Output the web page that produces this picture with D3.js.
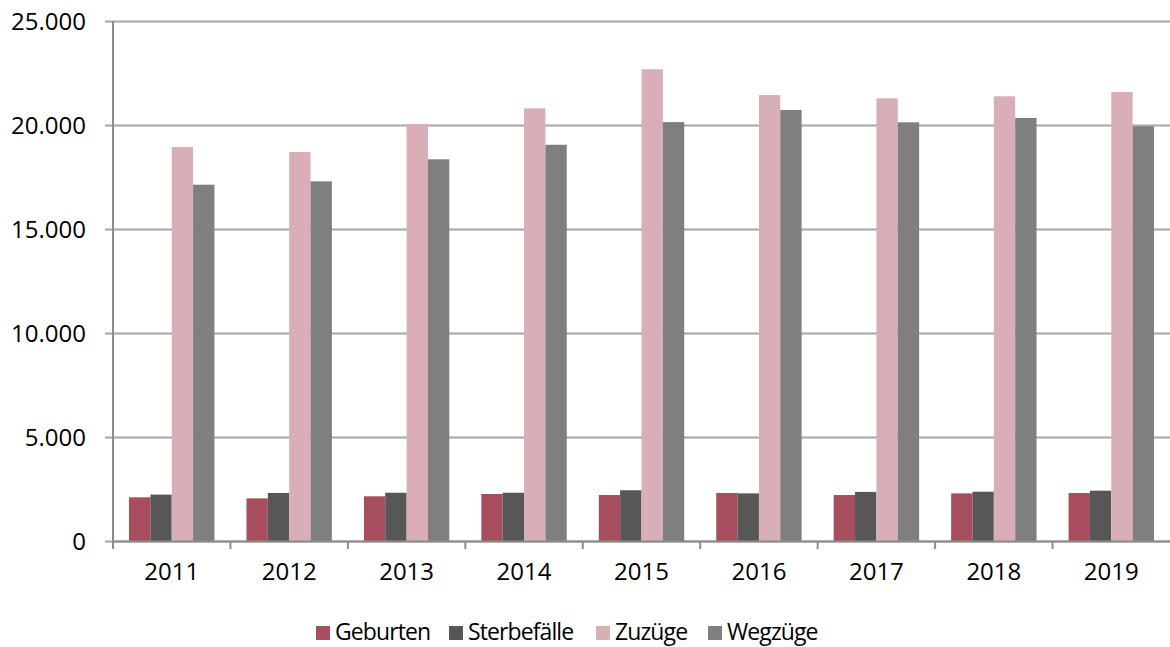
<html>
  <head>
    <script src="https://d3js.org/d3.v7.min.js"></script>
    <style>
      body { margin: 0; background: #fff; }
      text { font-family: "Open Sans", "Noto Sans", sans-serif; fill: #000; }
    </style>
  </head>

  <body>
    <script type="text/javascript">
      var years = ["2011","2012","2013","2014","2015","2016","2017","2018","2019"];
      var series = ["Geburten","Sterbefälle","Zuzüge","Wegzüge"];
      var colors = ["#a64e5e","#575757","#d9afb7","#7f7f7f"];
      var geburten = [2100,2050,2150,2260,2210,2310,2210,2290,2310];
      var sterbefaelle = [2230,2310,2320,2320,2440,2290,2360,2370,2420];
      var zuzuege = [18940,18700,20050,20800,22680,21440,21280,21380,21590];
      var wegzuege = [17130,17290,18350,19050,20140,20720,20130,20340,19940];
      var yTicks = [0,5000,10000,15000,20000,25000];

      var values = [geburten, sterbefaelle, zuzuege, wegzuege];
      var w = 1170, h = 647;
      var plotLeft = 113, plotRight = 1170, plotTop = 21, plotBottom = 541;

      var x = d3.scaleBand().domain(years).range([plotLeft,plotRight]).paddingInner(0).paddingOuter(0);
      var x1 = d3.scaleBand().domain(series).range([0,x.bandwidth()]).paddingInner(0).paddingOuter(0.75);
      var y = d3.scaleLinear().domain([0,25000]).range([plotBottom,plotTop]);
      var fmt = d3.formatLocale({decimal:",", thousands:".", grouping:[3], currency:["","€"]}).format(",.0f");

      var svg = d3.select("body").append("svg")
        .attr("width",w)
        .attr("height",h);

//gridlines + y axis
      var yAxis = d3.axisLeft(y).tickValues(yTicks).tickFormat(fmt)
        .tickSize(-(plotRight-plotLeft)).tickPadding(19);
      var gy = svg.append("g")
        .attr("transform","translate(" + plotLeft + ",0)")
        .call(yAxis);
      gy.select(".domain").remove();
      gy.selectAll(".tick line")
        .attr("x1",-8)
        .attr("stroke","#a6a6a6")
        .attr("stroke-width",2);
      gy.selectAll(".tick text")
        .attr("x",-27)
        .style("font-size","24px")
        .attr("dy","0.36em");

//bars
      var groups = svg.append("g").selectAll("g").data(years).enter().append("g")
        .attr("transform", d => "translate(" + x(d) + ",0)");

      groups.selectAll("rect")
        .data((d,i) => series.map((s,j) => ({s:s, v:values[j][i], c:colors[j]})))
        .enter().append("rect")
          .attr("x", d => x1(d.s))
          .attr("y", d => y(d.v))
          .attr("width", x1.bandwidth())
          .attr("height", d => y(0) - y(d.v))
          .attr("fill", d => d.c);

//y axis line
      svg.append("line")
        .attr("x1",plotLeft).attr("x2",plotLeft)
        .attr("y1",plotTop).attr("y2",plotBottom)
        .attr("stroke","#8c8c8c")
        .attr("stroke-width",2);

//x axis
      var xAxis = d3.axisBottom(x).tickSize(0).tickPadding(22);
      var gx = svg.append("g")
        .attr("transform","translate(0," + plotBottom + ")")
        .call(xAxis);
      gx.select(".domain")
        .attr("stroke","#8c8c8c")
        .attr("stroke-width",2);
      gx.selectAll(".tick text")
        .style("font-size","24px");

      svg.append("g").selectAll("line").data(years).enter().append("line")
        .attr("x1", d => x(d)).attr("x2", d => x(d))
        .attr("y1", plotBottom).attr("y2", plotBottom + 8)
        .attr("stroke","#8c8c8c")
        .attr("stroke-width",2);

//legend
      var legendX = [316, 449, 596, 708];
      var legend = svg.append("g").selectAll("g").data(series).enter().append("g")
        .attr("transform", (d,i) => "translate(" + legendX[i] + ",626)");

      legend.append("rect")
        .attr("width",14)
        .attr("height",14)
        .attr("fill", (d,i) => colors[i]);

      legend.append("text")
        .attr("x",19)
        .attr("y",14)
        .style("font-size","23px")
        .style("letter-spacing","-0.9px")
        .text(d => d);
    </script>
  </body>
</html>
